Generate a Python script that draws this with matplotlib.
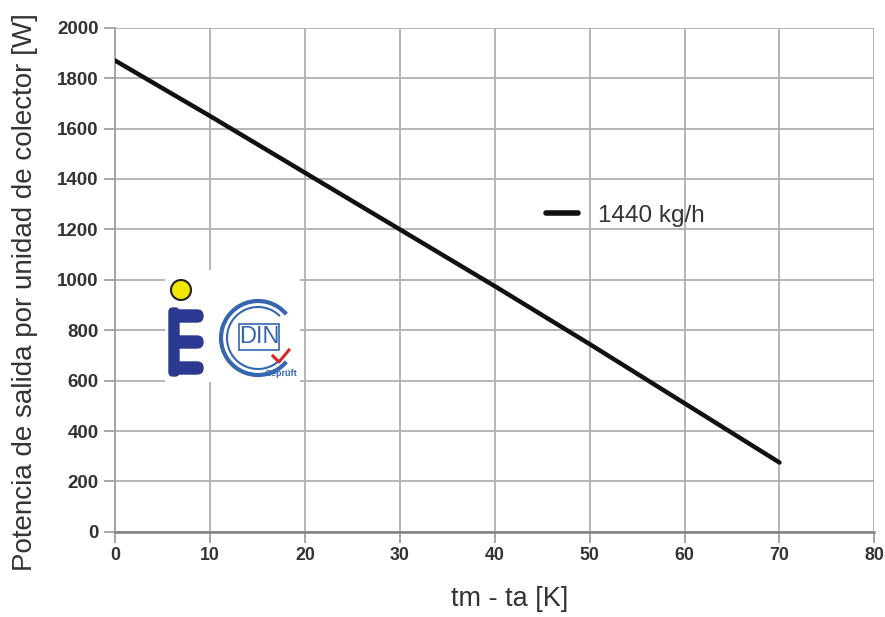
import numpy as np
import matplotlib
matplotlib.use('Agg')
import matplotlib.pyplot as plt
from matplotlib.patches import Circle, Arc, FancyBboxPatch, Rectangle

# data
dT = [0, 10, 20, 30, 40, 50, 60, 70]
power = [1870, 1650, 1425, 1200, 975, 745, 510, 275]
series_label = '1440 kg/h'
x_ticks = [0, 10, 20, 30, 40, 50, 60, 70, 80]
y_ticks = [0, 200, 400, 600, 800, 1000, 1200, 1400, 1600, 1800, 2000]

plt.rcParams['font.family'] = ['Liberation Sans', 'DejaVu Sans']

fig = plt.figure(figsize=(8.85, 6.17), dpi=100)
ax = fig.add_axes([0.130, 0.138, 0.858, 0.817])

ax.plot(dT, power, color='#111111', lw=3.2, solid_capstyle='round', label=series_label, zorder=3)

ax.set_xlim(0, 80)
ax.set_ylim(0, 2000)
ax.set_xticks(x_ticks)
ax.set_yticks(y_ticks)
ax.grid(True, color='#b0b0b0', lw=1.3)
ax.set_axisbelow(True)

for s in ['top', 'right']:
    ax.spines[s].set_visible(False)
ax.spines['left'].set_color('#a0a0a0')
ax.spines['left'].set_linewidth(1.3)
ax.spines['bottom'].set_color('#808080')
ax.spines['bottom'].set_linewidth(1.8)

ax.tick_params(axis='both', colors='#a0a0a0', length=8, width=1.3, labelcolor='#333333')
ax.tick_params(axis='x', pad=3, labelsize=12.8)
ax.tick_params(axis='y', pad=4, labelsize=13.5)
for lbl in ax.get_xticklabels() + ax.get_yticklabels():
    lbl.set_fontweight('bold')

ax.set_xlabel('tm - ta [K]', fontsize=19.5, color='#333333')
ax.xaxis.set_label_coords(0.52, -0.107)
ax.set_ylabel('Potencia de salida por unidad de colector [W]', fontsize=20, color='#333333')
ax.yaxis.set_label_coords(-0.101, 0.476)

leg = ax.legend(loc='center left', bbox_to_anchor=(0.567, 0.627), frameon=False, fontsize=17.5,
                handlelength=1.35, handletextpad=0.8, borderpad=0, borderaxespad=0)
for t in leg.get_texts():
    t.set_color('#333333')
for h in leg.get_lines():
    h.set_linewidth(4)

# logo approximation
lax = fig.add_axes([165 / 885, 1 - 382 / 617, 135 / 885, 112 / 617])
lax.set_xlim(0, 135)
lax.set_ylim(112, 0)
lax.axis('off')
lax.add_patch(Rectangle((0, 0), 135, 112, color='white', zorder=0))

blue = '#2b3990'
lax.add_patch(FancyBboxPatch((4, 38), 10, 68, boxstyle='round,pad=0,rounding_size=4', color=blue))
for yy in [40, 66, 92]:
    lax.add_patch(FancyBboxPatch((6, yy), 32, 12, boxstyle='round,pad=0,rounding_size=6', color=blue))
lax.add_patch(Circle((16, 20), 10, facecolor='#f3e600', edgecolor='#222222', lw=1.5))

dblue = '#3566b0'
lax.add_patch(Arc((93, 68), 74, 74, theta1=40, theta2=320, color=dblue, lw=3))
lax.add_patch(Arc((93, 68), 62, 62, theta1=45, theta2=315, color=dblue, lw=1.5))
lax.add_patch(Rectangle((74, 54), 40, 26, fill=False, edgecolor=dblue, lw=1.2))
lax.text(94, 67, 'DIN', color=dblue, fontsize=17, ha='center', va='center')
lax.plot([108, 114, 124], [86, 92, 80], color='#d62828', lw=2.2)
lax.text(116, 104, 'Geprüft', color=dblue, fontsize=6.5, ha='center', va='center', fontweight='bold')

plt.savefig('out.png', dpi=100)
